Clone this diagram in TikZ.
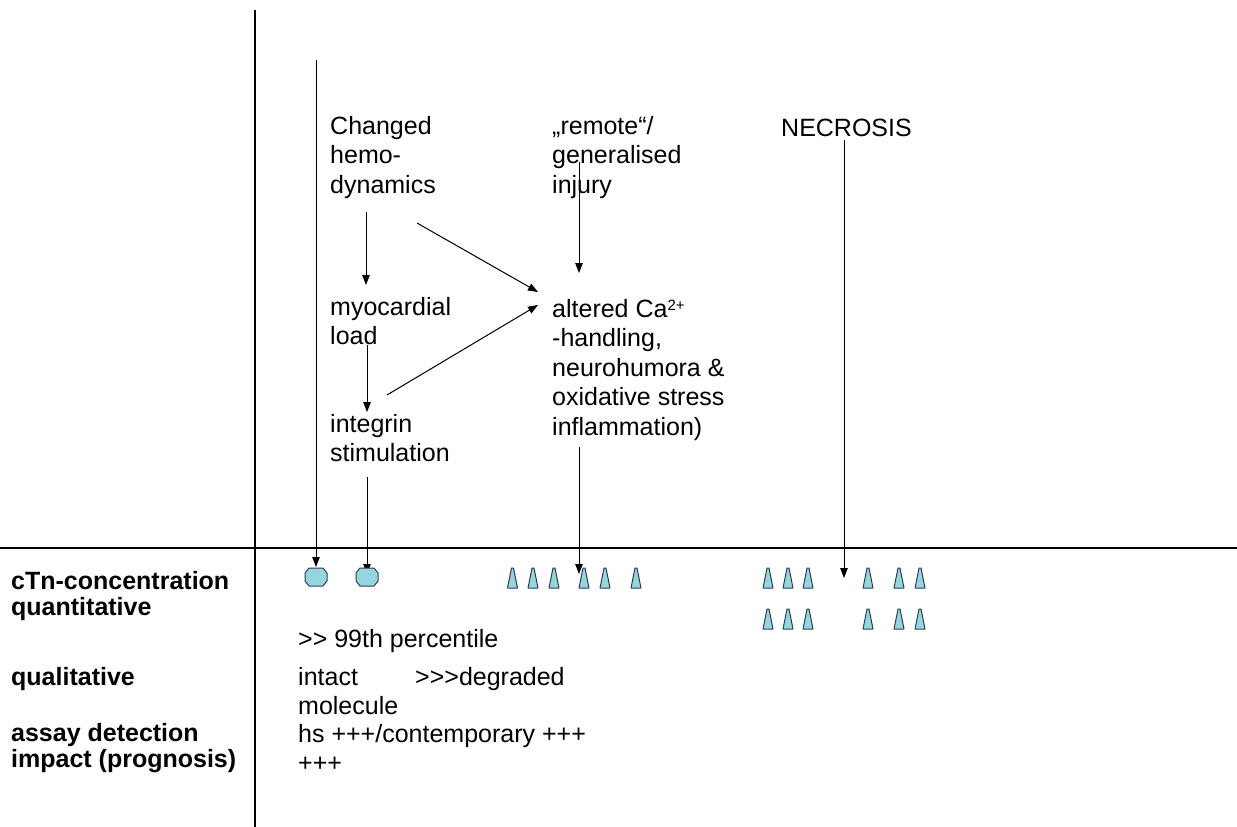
\documentclass[tikz,border=0pt]{standalone}
\usepackage{fontspec}
\setmainfont{Liberation Sans}[Ligatures=TeXOff]
\usetikzlibrary{arrows.meta}
\definecolor{cfill}{RGB}{150,212,222}
\definecolor{cedge}{RGB}{45,65,75}
\newcommand\mytri[2]{\draw[shp] (#1-5,#2+10) -- (#1-1,#2-10) -- (#1+1,#2-10) -- (#1+5,#2+10) -- cycle;}
\newcommand\myoct[2]{\draw[shp] (#1-11,#2-4) -- (#1-7,#2-9) -- (#1+7,#2-9) -- (#1+11,#2-4) -- (#1+11,#2+4) -- (#1+7,#2+9) -- (#1-7,#2+9) -- (#1-11,#2+4) -- cycle;}
\newcommand\supr[1]{\smash{\raisebox{7pt}{\fontsize{15}{15}\selectfont #1}}}
\begin{document}
\begin{tikzpicture}[x=1pt,y=-1pt,
 txt/.style={anchor=north west,inner sep=0pt,align=left,font=\fontsize{25}{29.5}\selectfont},
 lbl/.style={anchor=north west,inner sep=0pt,align=left,font=\fontsize{25}{26}\selectfont\bfseries},
 arr/.style={-{Triangle[length=10pt,width=7.5pt]},line width=1pt},
 ax/.style={line width=1.2pt},
 shp/.style={fill=cfill,draw=cedge,line width=1pt,line join=round},
]
\useasboundingbox[fill=white] (0,0) rectangle (1237,827);
% axes
\coordinate (vt) at (255,10);
\coordinate (vb) at (255,827);
\coordinate (hl) at (0,548);
\coordinate (hr) at (1237,548);
\draw[ax] (vt) -- (vb);
\draw[ax] (hl) -- (hr);
% texts
\node[txt] (chg) at (330,116) {Changed\\hemo-\\dynamics};
\node[txt] (rem) at (552,116) {„remote“/\\generalised\\injury};
\node[txt] (nec) at (781,119) {NECROSIS};
\node[txt] (myo) at (330,297) {myocardial\\load};
\node[txt] (int) at (330,414) {integrin\\stimulation};
\node[txt] (alt) at (552,299) {altered Ca\supr{2+}\\-handling,\\neurohumora \&\\oxidative stress\\inflammation)};
\node[lbl] (l1) at (11,571) {cTn-concentration\\quantitative};
\node[lbl] (l2) at (11,667) {qualitative};
\node[lbl] (l3) at (11,723) {assay detection\\impact (prognosis)};
\node[txt] (p99) at (298,629) {>> 99th percentile};
\node[txt] (intact) at (298,667) {intact\\molecule};
\node[txt] (deg) at (415,667) {>>>degraded};
\node[txt] (hs) at (298,724) {hs +++/contemporary +++\\+++};
% arrow ends
\coordinate (a1s) at (316,60);   \coordinate (a1e) at (316,567);
\coordinate (a2s) at (366,212);  \coordinate (a2e) at (366,285);
\coordinate (a3s) at (417,223);  \coordinate (a3e) at (538,292);
\coordinate (a4s) at (367,345);  \coordinate (a4e) at (367,412);
\coordinate (a5s) at (387,395);  \coordinate (a5e) at (538,305);
\coordinate (a6s) at (579,162);  \coordinate (a6e) at (579,273);
\coordinate (a7s) at (579,447);  \coordinate (a7e) at (579,574);
\coordinate (a8s) at (367,477);  \coordinate (a8e) at (367,574);
\coordinate (a9s) at (844,140);  \coordinate (a9e) at (844,578);
\foreach \i in {1,...,9} {\draw[arr] (a\i s) -- (a\i e);}
% markers
\myoct{316}{577}
\myoct{367}{577}
\foreach \x in {512.5,533,554,584,605,636} {\mytri{\x}{578}}
\foreach \x in {768,788,808,868,899,920} {\mytri{\x}{578}\mytri{\x}{619}}
\end{tikzpicture}
\end{document}
